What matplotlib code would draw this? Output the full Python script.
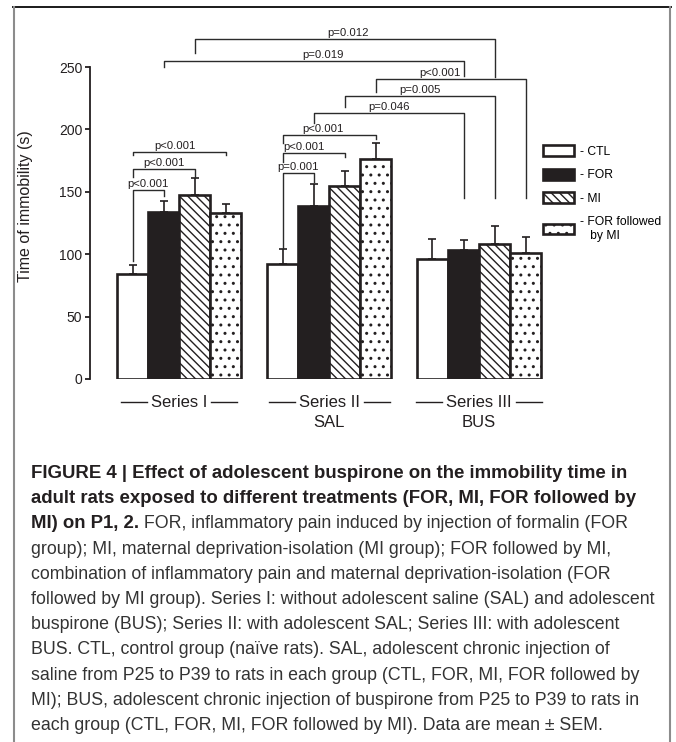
# -*- coding: utf-8 -*-

import numpy as np
import matplotlib.pyplot as plt
from matplotlib.lines import Line2D

# %% data ---------------------------------------------------------------------

groups = ['Series I', 'Series II', 'Series III']
group_notes = ['', 'SAL', 'BUS']
treatments = ['- CTL', '- FOR', '- MI', '- FOR followed\n   by MI']

series1_mean = [84.5, 134, 147.5, 133]
series1_sem = [6.5, 9, 13.5, 7.5]
series2_mean = [92.5, 138.5, 155, 176]
series2_sem = [12, 18, 12, 13]
series3_mean = [96, 103, 108.5, 101]
series3_sem = [16, 8.5, 14.5, 13]

# comparisons: (group, bar) of both ends and the p value
comp_a = [(0, 0), (0, 0), (0, 0), (1, 0), (1, 0), (1, 0),
          (0, 2), (0, 1), (1, 3), (1, 2), (1, 1)]
comp_b = [(0, 1), (0, 2), (0, 3), (1, 1), (1, 2), (1, 3),
          (2, 2), (2, 1), (2, 3), (2, 2), (2, 1)]
comp_labels = ['p<0.001', 'p<0.001', 'p<0.001',
               'p=0.001', 'p<0.001', 'p<0.001',
               'p=0.012', 'p=0.019', 'p<0.001', 'p=0.005', 'p=0.046']

caption_bold = ['FIGURE 4 | Effect of adolescent buspirone on the immobility time in',
                'adult rats exposed to different treatments (FOR, MI, FOR followed by',
                'MI) on P1, 2.']
caption_text = [' FOR, inflammatory pain induced by injection of formalin (FOR',
                'group); MI, maternal deprivation-isolation (MI group); FOR followed by MI,',
                'combination of inflammatory pain and maternal deprivation-isolation (FOR',
                'followed by MI group). Series I: without adolescent saline (SAL) and adolescent',
                'buspirone (BUS); Series II: with adolescent SAL; Series III: with adolescent',
                'BUS. CTL, control group (naïve rats). SAL, adolescent chronic injection of',
                'saline from P25 to P39 to rats in each group (CTL, FOR, MI, FOR followed by',
                'MI); BUS, adolescent chronic injection of buspirone from P25 to P39 to rats in',
                'each group (CTL, FOR, MI, FOR followed by MI). Data are mean ± SEM.']

# %% layout -------------------------------------------------------------------

# bracket levels: horizontal line, end of left leg, end of right leg, text shift
comp_level = [151.5, 168.3, 181.9, 164.7, 180.8, 195.5,
              272.4, 254.8, 240.4, 226.8, 213.1]
comp_end_a = [94.6, 161.9, 179.5, 105.0, 174.1, 189.1,
              261.2, 250.0, 230.2, 218.0, 205.1]
comp_end_b = [146.6, 161.9, 179.5, 158.0, 178.0, 192.3,
              242.0, 242.8, 145.0, 145.0, 145.0]
comp_dx = [0, 0, -0.15, 0, -0.3, -0.2, 0.1, 0.3, -0.35, 0, 0]

W, H = 676, 742
ink = '#231f20'
grey_text = '#333333'
fills = ['white', ink, 'white', 'white']
hatches = [None, None, '\\\\\\\\', '..']

plt.rcParams['font.family'] = ['Liberation Sans', 'DejaVu Sans']
plt.rcParams['hatch.linewidth'] = 1.0
plt.rcParams['hatch.color'] = ink

fig = plt.figure(figsize=(W/100, H/100), dpi=100)
ax = fig.add_axes([90/W, 1 - 379/H, 578/W, 364.4/H])
ax.set_xlim(0, 578/31.1)
ax.set_ylim(0, 292)

group_left = 0.87 + 4.82*np.arange(3)
means = [series1_mean, series2_mean, series3_mean]
sems = [series1_sem, series2_sem, series3_sem]


def bar_x(g, i):
    return group_left[g] + i + 0.5


# %% bars ---------------------------------------------------------------------
handles = []
for g in range(3):
    x = group_left[g] + np.arange(4) + 0.5
    ax.errorbar(x, means[g], yerr=[np.zeros(4), sems[g]], fmt='none',
                ecolor=ink, elinewidth=1.2, capsize=3.2, capthick=1.2, zorder=1)
    bars = ax.bar(x, means[g], width=1, color=fills, edgecolor=ink,
                  linewidth=1.9, zorder=2)
    for b, h in zip(bars, hatches):
        b.set_hatch(h)
    if g == 0:
        handles = list(bars)

# %% significance brackets ----------------------------------------------------
for a, b, lab, y, ya, yb, dx in zip(comp_a, comp_b, comp_labels, comp_level,
                                    comp_end_a, comp_end_b, comp_dx):
    xa, xb = bar_x(*a), bar_x(*b)
    ax.plot([xa, xa, xb, xb], [ya, y, y, yb], color='#2b2b2b', lw=1.0,
            clip_on=False, zorder=3)
    ax.text((xa + xb)/2 + dx, y + 1.0, lab, ha='center', va='bottom',
            fontsize=8.2, color=ink)

# %% axes ---------------------------------------------------------------------
for s in ['top', 'right', 'bottom']:
    ax.spines[s].set_visible(False)
ax.spines['left'].set_bounds(0, 250)
ax.spines['left'].set_linewidth(1.3)
ax.spines['left'].set_color(ink)
ax.set_yticks(np.arange(0, 251, 50))
ax.set_xticks([])
ax.tick_params(axis='y', length=3.6, width=1.3, pad=2, labelsize=10,
               colors=ink)
ax.set_ylabel('Time of immobility (s)', fontsize=11.5, color=ink)
ax.yaxis.set_label_coords(-0.099, 0.475)

# series labels below the groups
series_texts = []
for g in range(3):
    c = group_left[g] + 2
    t = ax.text(c, -19, groups[g], ha='center', va='center', fontsize=12,
                color=ink, clip_on=False)
    series_texts.append(t)
    if group_notes[g]:
        ax.text(c, -34.5, group_notes[g], ha='center', va='center',
                fontsize=12, color=ink, clip_on=False)

fig.canvas.draw()
renderer = fig.canvas.get_renderer()
inv = ax.transData.inverted()
for t in series_texts:
    bb = t.get_window_extent(renderer).transformed(inv)
    gap, length = 4/31.1, 26/31.1
    for x0, x1 in [(bb.x0 - gap - length, bb.x0 - gap),
                   (bb.x1 + gap, bb.x1 + gap + length)]:
        ax.plot([x0, x1], [-18.5, -18.5], color=ink, lw=1.0, clip_on=False)

# legend
ax.legend(handles, treatments, loc='upper left',
          bbox_to_anchor=(543/W, 1 - 145.5/H), bbox_transform=fig.transFigure,
          frameon=False, fontsize=8.7, handlelength=2.55, handleheight=1.0,
          handletextpad=0.5, labelspacing=0.9, borderpad=0, borderaxespad=0)

# %% frame round the figure ---------------------------------------------------
fig.add_artist(Line2D([13/W, 671/W], [1 - 7/H]*2, color='#1a1a1a', lw=1.4))
for xf in [14/W, 670/W]:
    fig.add_artist(Line2D([xf, xf], [0, 1 - 7/H], color='#8c8c8c', lw=1.5))

# %% caption ------------------------------------------------------------------
x0, y0, dy = 31/W, 478, 25.2
for k, line in enumerate(caption_bold):
    tb = fig.text(x0, 1 - (y0 + k*dy)/H, line, fontsize=13.4,
                  fontweight='bold', color=ink, va='baseline')
# the rest of the third line continues after the bold part
ax.annotate(caption_text[0], xy=(1, 0), xycoords=tb, fontsize=12.8,
            color=grey_text, va='bottom', ha='left', annotation_clip=False)
for k, line in enumerate(caption_text[1:], start=len(caption_bold)):
    fig.text(x0, 1 - (y0 + k*dy)/H, line, fontsize=12.8, color=grey_text,
             va='baseline')

fig.savefig('out.png', dpi=100)
